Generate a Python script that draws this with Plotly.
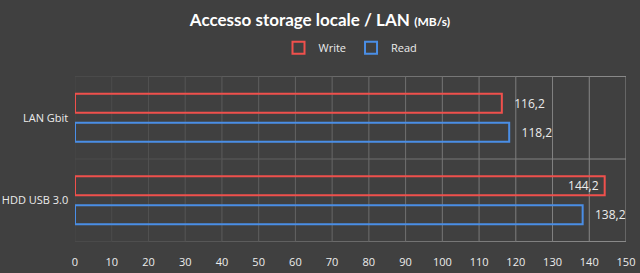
import plotly.graph_objects as go

categories = ["LAN Gbit", "HDD USB 3.0"]
write_vals = [116.2, 144.2]
read_vals = [118.2, 138.2]
x_ticks = list(range(0, 151, 10))

BG = "#404040"
TXT = "#ececec"
FONT = "Open Sans"

fig = go.Figure()
fig.add_trace(go.Bar(
    name="Write", y=categories, x=write_vals, orientation="h",
    marker=dict(color="rgba(0,0,0,0)", line=dict(color="#f0504c", width=2)),
    texttemplate=["   %{x:.1f}", "%{x:.1f} "], textposition=["outside", "inside"],
    insidetextanchor="end",
    textfont=dict(color=TXT, size=12, family=FONT),
    cliponaxis=False,
))
fig.add_trace(go.Bar(
    name="Read", y=categories, x=read_vals, orientation="h",
    marker=dict(color="rgba(0,0,0,0)", line=dict(color="#4a8ee6", width=2)),
    texttemplate="   %{x:.1f}", textposition="outside",
    textfont=dict(color=TXT, size=12, family=FONT),
    cliponaxis=False,
))

def grad(t):
    lo, hi = 0x48, 0x8c
    v = int(lo + (hi - lo) * t)
    return f"rgb({v},{v},{v})"

# vertical gridlines with left-to-right brightening
n = len(x_ticks) - 1
for i, xv in enumerate(x_ticks):
    fig.add_shape(type="line", xref="x", yref="paper", x0=xv, x1=xv, y0=0, y1=1,
                  line=dict(color=grad(i / n), width=1), layer="below")
# horizontal boundary lines (top, separator, bottom)
for yb in [-0.5, 0.5, 1.5]:
    for i in range(n):
        fig.add_shape(type="line", xref="x", yref="y", x0=x_ticks[i], x1=x_ticks[i + 1],
                      y0=yb, y1=yb, line=dict(color=grad((i + 0.5) / n), width=1),
                      layer="below")

fig.update_layout(
    width=640, height=273,
    paper_bgcolor=BG, plot_bgcolor=BG,
    margin=dict(l=75, r=14, t=76, b=31, autoexpand=False),
    separators=",.",
    barmode="group", bargap=0.30, bargroupgap=0.345,
    uniformtext=dict(minsize=12, mode="show"),
    font=dict(family=FONT, color=TXT, size=12),
    title=dict(
        text="<b>Accesso storage locale / LAN</b> <span style='font-size:12px'><b>(MB/s)</b></span>",
        x=0.5, xanchor="center", y=0.925, yanchor="middle",
        font=dict(family="Lato", size=17, color="#ffffff"),
    ),
    legend=dict(
        orientation="h", x=0.5, xanchor="center", y=0.825, yanchor="middle",
        yref="container", font=dict(size=11, color=TXT, family=FONT),
        bgcolor="rgba(0,0,0,0)", itemwidth=30, tracegroupgap=0,
    ),
    showlegend=True,
    xaxis=dict(
        range=[0, 150], tickvals=x_ticks, showgrid=False,
        zeroline=False, showline=False, ticks="", ticklabelstandoff=12,
        tickfont=dict(size=11, color=TXT), automargin=False,
    ),
    yaxis=dict(
        autorange="reversed", showgrid=False, ticks="", showline=False, zeroline=False,
        tickfont=dict(size=11, color=TXT), ticksuffix="  ", automargin=False,
    ),
)

fig.write_html("out.html")
